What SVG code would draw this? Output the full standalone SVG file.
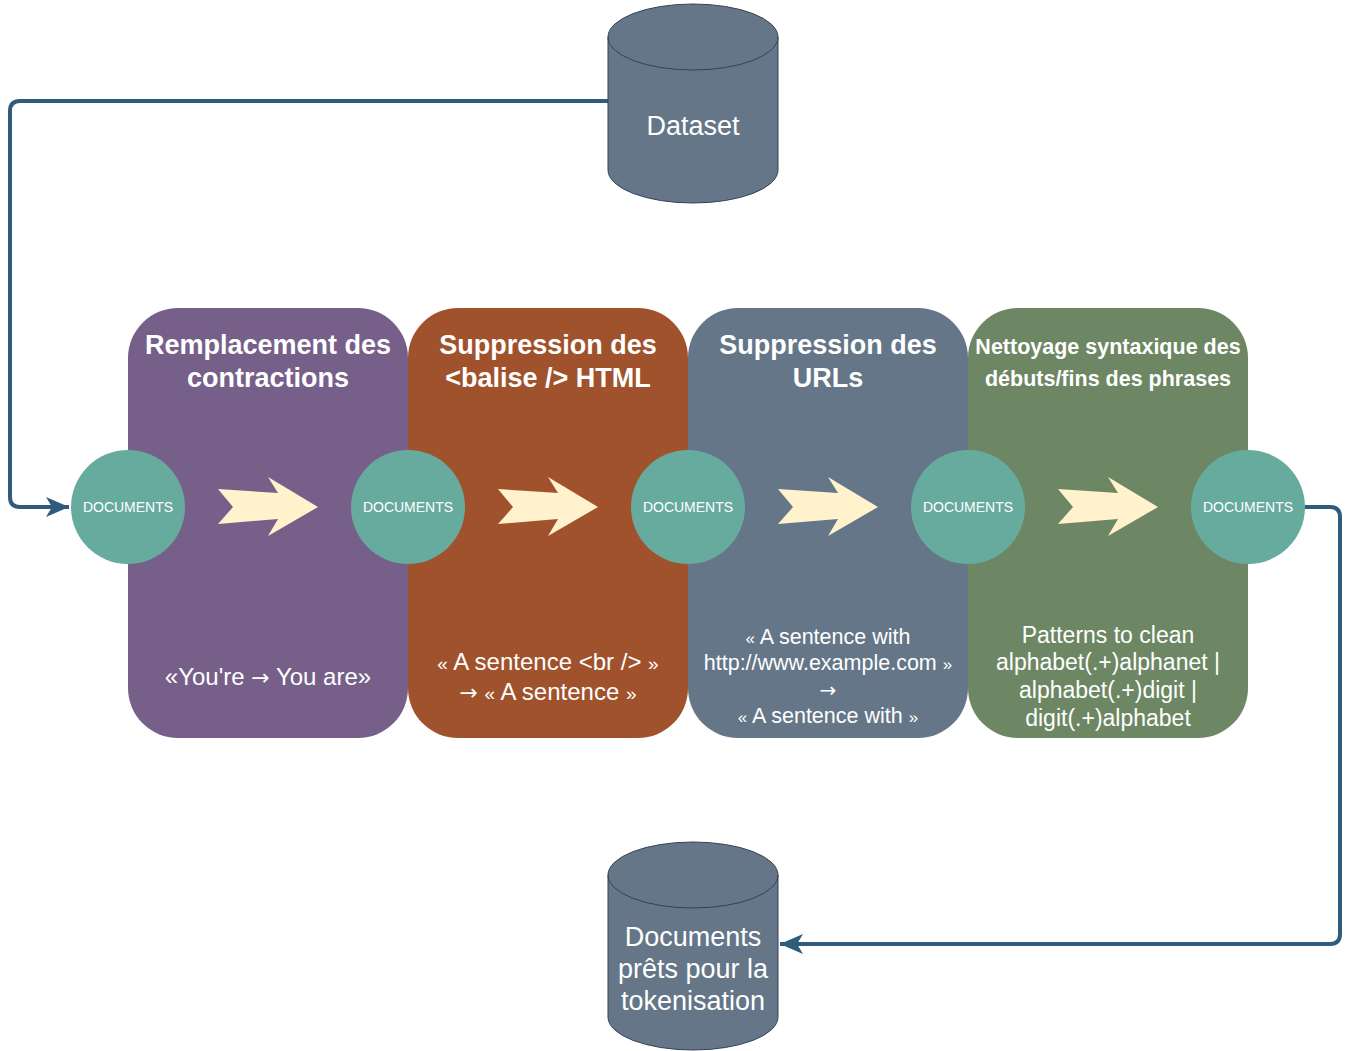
<svg xmlns="http://www.w3.org/2000/svg" width="1350" height="1051" viewBox="0 0 1350 1051">
<defs>
<style>
.panel{stroke:none}
.title{font-family:"Liberation Sans",Arial,sans-serif;font-weight:bold;fill:#fff;text-anchor:middle}
.body{font-family:"Liberation Sans",Arial,sans-serif;fill:#fff;text-anchor:middle}
.sym{font-family:"DejaVu Sans",sans-serif}
.doc{font-family:"Liberation Sans",Arial,sans-serif;fill:#fff;text-anchor:middle;font-size:14px}
.circ{fill:#67ab9f}
.arr{fill:#fff2cc}
.cyl{fill:#647687;stroke:#314354;stroke-width:1}
.conn{fill:none;stroke:#2f5b7c;stroke-width:4;stroke-linejoin:round}
</style>
<marker id="ah" markerUnits="userSpaceOnUse" markerWidth="26" markerHeight="26" refX="23" refY="13" orient="auto">
<path d="M0,3 L23,13 L0,23 L6,13 Z" fill="#2f5b7c"/>
</marker>
<path id="barrow" d="M0,-18 L60,-14 L50,-30 L100,0 L50,29 L60,12 L0,17 L15,0 Z"/>
</defs>

<g id="connectors">
<path class="conn" d="M608,101 L20,101 Q10,101 10,111 L10,497 Q10,507 20,507 L69,507" marker-end="url(#ah)"/>
<path class="conn" d="M1305,507 L1330,507 Q1340,507 1340,517 L1340,934 Q1340,944 1330,944 L780,944" marker-end="url(#ah)"/>
</g>

<g id="dataset">
<path class="cyl" d="M608,37 A85,33 0 0 1 778,37 L778,170 A85,33 0 0 1 608,170 Z"/>
<path fill="none" stroke="#314354" stroke-width="1" d="M608,37 A85,33 0 0 0 778,37"/>
<text class="body" x="693" y="135" font-size="27">Dataset</text>
</g>

<g id="panel1">
<rect class="panel" x="128" y="308" width="280" height="430" rx="50" fill="#76608a"/>
<text class="title" x="268" y="354" font-size="27">Remplacement des</text>
<text class="title" x="268" y="387" font-size="27">contractions</text>
<text class="body" x="268" y="685" font-size="24">«You're <tspan class="sym" font-size="22">→</tspan> You are»</text>
</g>
<g id="panel2">
<rect class="panel" x="408" y="308" width="280" height="430" rx="50" fill="#a0522d"/>
<text class="title" x="548" y="354" font-size="27">Suppression des</text>
<text class="title" x="548" y="387" font-size="27">&lt;balise /&gt; HTML</text>
<text class="body" x="548" y="670" font-size="24"><tspan font-size="19">«</tspan> A sentence &lt;br /&gt; <tspan font-size="19">»</tspan></text>
<text class="body" x="548" y="700" font-size="24"><tspan class="sym" font-size="22">→</tspan> <tspan font-size="19">«</tspan> A sentence <tspan font-size="19">»</tspan></text>
</g>
<g id="panel3">
<rect class="panel" x="688" y="308" width="280" height="430" rx="50" fill="#647687"/>
<text class="title" x="828" y="354" font-size="27">Suppression des</text>
<text class="title" x="828" y="387" font-size="27">URLs</text>
<text class="body" x="828" y="644" font-size="21.5"><tspan font-size="17">«</tspan> A sentence with</text>
<text class="body" x="828" y="670" font-size="21.5">http://www.example.com <tspan font-size="17">»</tspan></text>
<text class="body" x="828" y="697" font-size="21.5"><tspan class="sym" font-size="20">→</tspan></text>
<text class="body" x="828" y="723" font-size="21.5"><tspan font-size="17">«</tspan> A sentence with <tspan font-size="17">»</tspan></text>
</g>
<g id="panel4">
<rect class="panel" x="968" y="308" width="280" height="430" rx="50" fill="#6d8764"/>
<text class="title" x="1108" y="354" font-size="21.5">Nettoyage syntaxique des</text>
<text class="title" x="1108" y="386" font-size="21.5">débuts/fins des phrases</text>
<text class="body" x="1108" y="643" font-size="23">Patterns to clean</text>
<text class="body" x="1108" y="670" font-size="23">alphabet(.+)alphanet |</text>
<text class="body" x="1108" y="698" font-size="23">alphabet(.+)digit |</text>
<text class="body" x="1108" y="726" font-size="23">digit(.+)alphabet</text>
</g>

<g id="arrow1"><use href="#barrow" class="arr" x="218" y="507"/></g>
<g id="arrow2"><use href="#barrow" class="arr" x="498" y="507"/></g>
<g id="arrow3"><use href="#barrow" class="arr" x="778" y="507"/></g>
<g id="arrow4"><use href="#barrow" class="arr" x="1058" y="507"/></g>

<g id="doc1"><circle class="circ" cx="128" cy="507" r="57"/><text class="doc" x="128" y="512">DOCUMENTS</text></g>
<g id="doc2"><circle class="circ" cx="408" cy="507" r="57"/><text class="doc" x="408" y="512">DOCUMENTS</text></g>
<g id="doc3"><circle class="circ" cx="688" cy="507" r="57"/><text class="doc" x="688" y="512">DOCUMENTS</text></g>
<g id="doc4"><circle class="circ" cx="968" cy="507" r="57"/><text class="doc" x="968" y="512">DOCUMENTS</text></g>
<g id="doc5"><circle class="circ" cx="1248" cy="507" r="57"/><text class="doc" x="1248" y="512">DOCUMENTS</text></g>

<g id="output">
<path class="cyl" d="M608,875 A85,33 0 0 1 778,875 L778,1017 A85,33 0 0 1 608,1017 Z"/>
<path fill="none" stroke="#314354" stroke-width="1" d="M608,875 A85,33 0 0 0 778,875"/>
<text class="body" x="693" y="946" font-size="27">Documents</text>
<text class="body" x="693" y="978" font-size="27">prêts pour la</text>
<text class="body" x="693" y="1010" font-size="27">tokenisation</text>
</g>
</svg>
